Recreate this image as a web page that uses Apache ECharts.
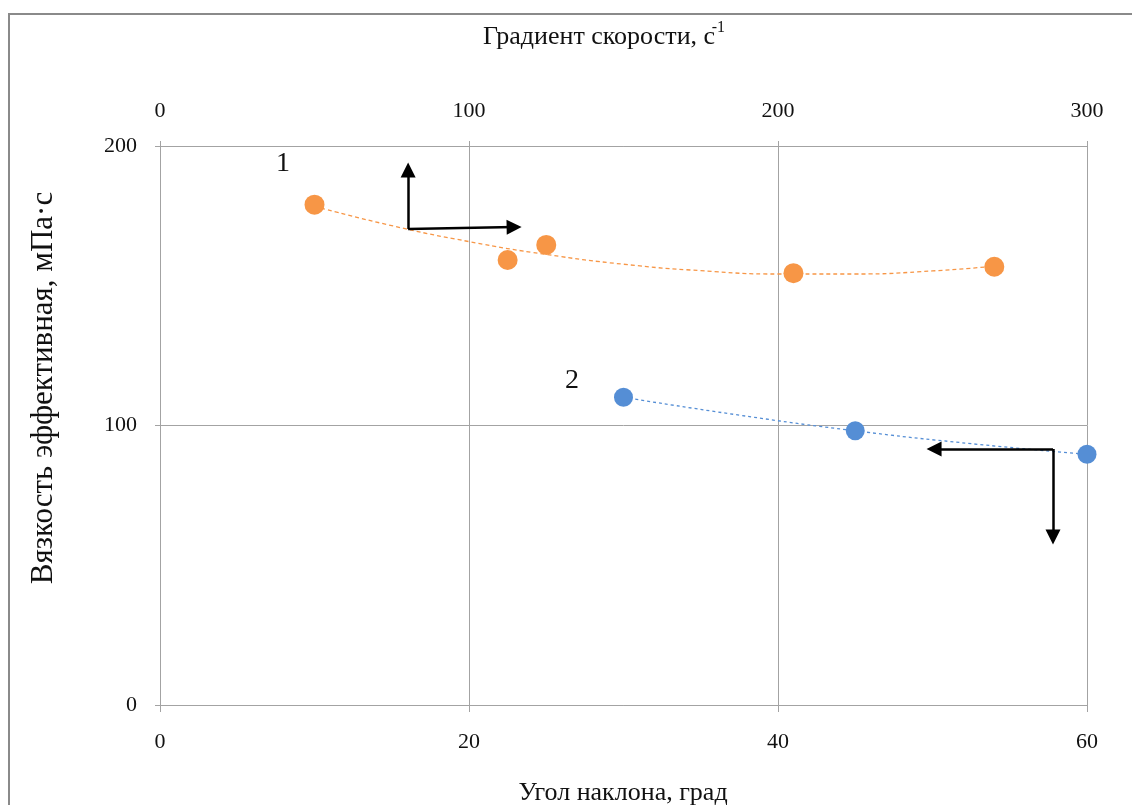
<!DOCTYPE html>
<html>
<head>
<meta charset="utf-8">
<script src="https://cdn.jsdelivr.net/npm/echarts@6/dist/echarts.min.js"></script>
<style>
  html, body { margin: 0; padding: 0; background: #ffffff; }
  #chart { width: 1132px; height: 805px; }
</style>
</head>
<body>
<div id="chart"></div>
<script>
// Curve 1: viscosity vs shear-rate gradient (top axis, s^-1)
const gradient1 = [50, 112.5, 125, 205, 270];
const viscosity1 = [179, 159.2, 164.6, 154.5, 156.8];
// Curve 2: viscosity vs inclination angle (bottom axis, degrees)
const angle2 = [30, 45, 60];
const viscosity2 = [110.1, 98.1, 89.7];

// Polynomial trend lines (order 2)
const trend1X = [50, 75, 100, 125, 150, 175, 200, 225, 250, 270];
const trend1Y = [178.4, 171.5, 165.8, 161.2, 157.7, 155.4, 154.2, 154.2, 155.3, 157.0];
const trend2X = [30, 37.5, 45, 52.5, 60];
const trend2Y = [110.1, 103.7, 98.1, 93.5, 89.7];

// Axis ticks
const angleTicks = [0, 20, 40, 60];
const gradientTicks = [0, 100, 200, 300];
const viscosityTicks = [0, 100, 200];

// Direction arrows showing which axis each curve belongs to
const arrow1Corner = [80.3, 170.3];      // top axis units
const arrow1Ends = [[80.3, 191.4], [114.6, 171.0]];
const arrow2Corner = [57.8, 91.6];       // bottom axis units
const arrow2Ends = [[50.1, 91.6], [57.8, 60.1]];

const pair = (xs, ys) => xs.map((x, i) => [x, ys[i]]);

const FONT = '"Liberation Serif", "Times New Roman", serif';
const GRID = '#a3a3a3';
const ORANGE = '#F79646';
const BLUE = '#558ED5';

const chart = echarts.init(document.getElementById('chart'), null, { renderer: 'canvas' });

chart.setOption({
  backgroundColor: '#ffffff',
  animation: false,
  grid: { left: 160, right: 45, top: 146, bottom: 100, containLabel: false },
  xAxis: [
    {
      type: 'value', position: 'bottom',
      min: angleTicks[0], max: angleTicks[angleTicks.length - 1], interval: 20,
      axisLine: { show: true, lineStyle: { color: GRID, width: 1 } },
      axisTick: { show: true, length: 7, lineStyle: { color: GRID } },
      splitLine: { show: true, lineStyle: { color: GRID, width: 1 } },
      axisLabel: { fontFamily: FONT, fontSize: 22, color: '#111', margin: 26 }
    },
    {
      type: 'value', position: 'top',
      min: gradientTicks[0], max: gradientTicks[gradientTicks.length - 1], interval: 100,
      axisLine: { show: true, lineStyle: { color: GRID, width: 1 } },
      axisTick: { show: true, length: 5, lineStyle: { color: GRID } },
      splitLine: { show: false },
      axisLabel: { fontFamily: FONT, fontSize: 22, color: '#111', margin: 24 }
    }
  ],
  yAxis: {
    type: 'value',
    min: viscosityTicks[0], max: viscosityTicks[viscosityTicks.length - 1], interval: 100,
    axisLine: { show: true, lineStyle: { color: GRID, width: 1 } },
    axisTick: { show: true, length: 5, lineStyle: { color: GRID } },
    splitLine: { show: true, lineStyle: { color: GRID, width: 1 } },
    axisLabel: { fontFamily: FONT, fontSize: 22, color: '#111', margin: 23 }
  },
  graphic: [
    {
      type: 'rect', silent: true, z: -10,
      shape: { x: 9, y: 14, width: 1140, height: 830 },
      style: { fill: 'none', stroke: '#8a8a8a', lineWidth: 2 }
    },
    {
      type: 'text', x: 599, y: 37,
      style: { text: 'Градиент скорости, с', font: '26px ' + FONT, fill: '#111',
               textAlign: 'center', textVerticalAlign: 'middle' }
    },
    {
      type: 'text', x: 725, y: 28,
      style: { text: '-1', font: '16px ' + FONT, fill: '#111',
               textAlign: 'right', textVerticalAlign: 'middle' }
    },
    {
      type: 'text', x: 623, y: 793,
      style: { text: 'Угол наклона, град', font: '26px ' + FONT, fill: '#111',
               textAlign: 'center', textVerticalAlign: 'middle' }
    },
    {
      type: 'text', x: 44, y: 388, rotation: Math.PI / 2,
      style: { text: 'Вязкость эффективная, мПа·с', font: '31px ' + FONT, fill: '#111',
               textAlign: 'center', textVerticalAlign: 'middle' }
    },
    {
      type: 'text', x: 283, y: 164,
      style: { text: '1', font: '28px ' + FONT, fill: '#111',
               textAlign: 'center', textVerticalAlign: 'middle' }
    },
    {
      type: 'text', x: 572, y: 381,
      style: { text: '2', font: '28px ' + FONT, fill: '#111',
               textAlign: 'center', textVerticalAlign: 'middle' }
    }
  ],
  series: [
    {
      name: 'trend1', type: 'line', xAxisIndex: 1, yAxisIndex: 0,
      data: pair(trend1X, trend1Y), smooth: true, showSymbol: false, symbol: 'none',
      lineStyle: { color: ORANGE, width: 1.3, type: [4, 3] }, z: 2, silent: true
    },
    {
      name: 'trend2', type: 'line', xAxisIndex: 0, yAxisIndex: 0,
      data: pair(trend2X, trend2Y), smooth: true, showSymbol: false, symbol: 'none',
      lineStyle: { color: BLUE, width: 1.3, type: [3, 3] }, z: 2, silent: true
    },
    {
      name: '1', type: 'scatter', xAxisIndex: 1, yAxisIndex: 0,
      data: pair(gradient1, viscosity1), symbol: 'circle', symbolSize: 20,
      itemStyle: { color: ORANGE, opacity: 1 }, z: 3
    },
    {
      name: '2', type: 'scatter', xAxisIndex: 0, yAxisIndex: 0,
      data: pair(angle2, viscosity2), symbol: 'circle', symbolSize: 19,
      itemStyle: { color: BLUE, opacity: 1 }, z: 3
    },
    {
      name: 'arrow1', type: 'lines', coordinateSystem: 'cartesian2d', xAxisIndex: 1, yAxisIndex: 0,
      data: arrow1Ends.map(e => ({ coords: [arrow1Corner, e] })),
      symbol: ['none', 'triangle'], symbolSize: 15,
      lineStyle: { color: '#000', width: 2.5, opacity: 1, curveness: 0 }, z: 5, silent: true
    },
    {
      name: 'arrow2', type: 'lines', coordinateSystem: 'cartesian2d', xAxisIndex: 0, yAxisIndex: 0,
      data: arrow2Ends.map(e => ({ coords: [arrow2Corner, e] })),
      symbol: ['none', 'triangle'], symbolSize: 15,
      lineStyle: { color: '#000', width: 2.5, opacity: 1, curveness: 0 }, z: 5, silent: true
    }
  ]
});
</script>
</body>
</html>
